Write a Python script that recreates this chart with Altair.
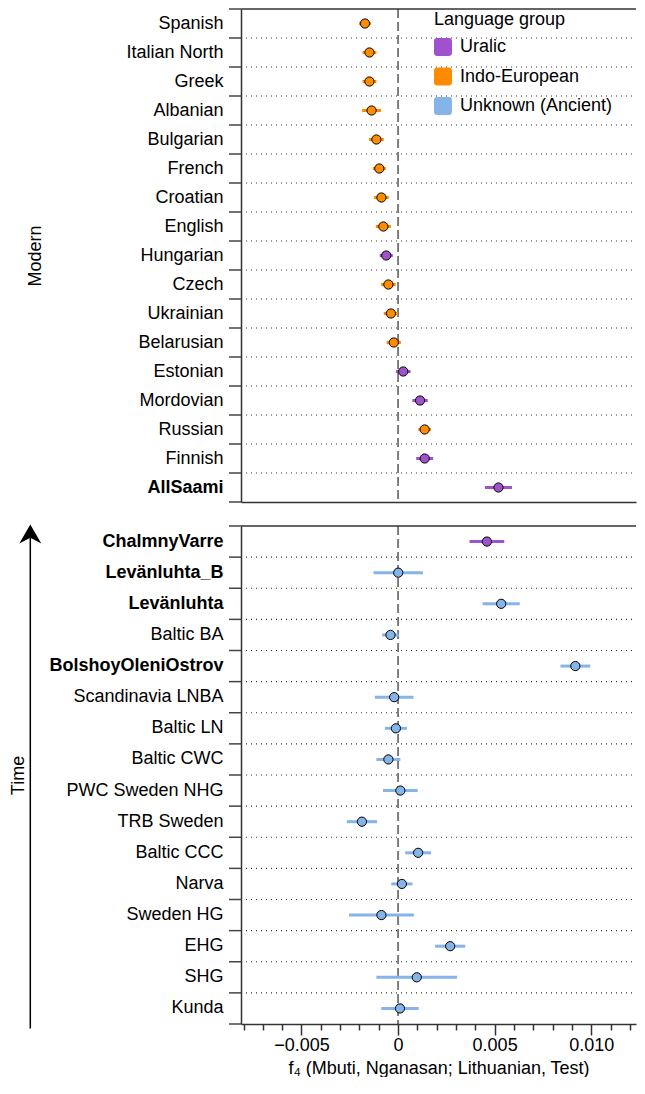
import altair as alt
import pandas as pd

modern_names = ["Spanish", "Italian North", "Greek", "Albanian", "Bulgarian", "French",
                "Croatian", "English", "Hungarian", "Czech", "Ukrainian", "Belarusian",
                "Estonian", "Mordovian", "Russian", "Finnish", "AllSaami"]
modern_f4 = [-0.00171, -0.00148, -0.00148, -0.00137, -0.00112, -0.00097, -0.00086, -0.00076,
             -0.00061, -0.00050, -0.00037, -0.00022, 0.00027, 0.00114, 0.00138, 0.00138, 0.00520]
modern_err = [0.00031, 0.00036, 0.00036, 0.00049, 0.00038, 0.00034, 0.00038, 0.00039,
              0.00034, 0.00038, 0.00037, 0.00037, 0.00038, 0.00040, 0.00033, 0.00044, 0.00070]
modern_group = (["Indo-European"] * 8 + ["Uralic"] + ["Indo-European"] * 3 +
                ["Uralic", "Uralic", "Indo-European", "Uralic", "Uralic"])

ancient_names = ["ChalmnyVarre", "Levänluhta_B", "Levänluhta", "Baltic BA", "BolshoyOleniOstrov",
                 "Scandinavia LNBA", "Baltic LN", "Baltic CWC", "PWC Sweden NHG", "TRB Sweden",
                 "Baltic CCC", "Narva", "Sweden HG", "EHG", "SHG", "Kunda"]
ancient_f4 = [0.00460, 0.00001, 0.00534, -0.00039, 0.00918, -0.00020, -0.00011, -0.00050,
              0.00012, -0.00187, 0.00104, 0.00020, -0.00086, 0.00270, 0.00097, 0.00010]
ancient_err = [0.00090, 0.00128, 0.00096, 0.00043, 0.00077, 0.00100, 0.00057, 0.00062,
               0.00090, 0.00078, 0.00067, 0.00055, 0.00168, 0.00078, 0.00209, 0.00097]
ancient_group = ["Uralic"] + ["Unknown (Ancient)"] * 15

bold_names = ["AllSaami", "ChalmnyVarre", "Levänluhta_B", "Levänluhta", "BolshoyOleniOstrov"]

groups = ["Uralic", "Indo-European", "Unknown (Ancient)"]
group_colors = ["#A052CC", "#FF8C00", "#84B4E8"]

x_ticks = [-0.008, -0.007, -0.006, -0.005, -0.004, -0.003, -0.002, -0.001, 0.0,
           0.001, 0.002, 0.003, 0.004, 0.005, 0.006, 0.007, 0.008, 0.009, 0.010, 0.011, 0.012]

FONT = "Liberation Sans"
FS = 18
W = 395
H_TOP = 493
H_BOT = 498
XDOM = [-0.00813, 0.01232]
LINE = "#333333"
PAD = {"left": 0, "top": 0, "right": 0, "bottom": 0}


def make_df(names, f4, err, grp):
    return pd.DataFrame({
        "name": names,
        "f4": f4,
        "lo": [a - b for a, b in zip(f4, err)],
        "hi": [a + b for a, b in zip(f4, err)],
        "group": grp,
    })


bold_test = "indexof([" + ",".join("'" + n + "'" for n in bold_names) + "], datum.value) >= 0"
major_test = "abs(round(datum.value*1000)) % 5 == 0"


def panel(df, names, H, title, title_x, bottom, legend):
    bw = H / len(names)
    yaxis = alt.Axis(
        ticks=False, grid=False,
        domainColor=LINE, domainWidth=1.5,
        labelFont=FONT, labelFontSize=FS, labelColor="black", labelPadding=18,
        labelFontWeight={"condition": {"test": bold_test, "value": "bold"}, "value": "normal"},
        title=title, titleAngle=-90, titleX=title_x, titleY=H / 2,
        titleFont=FONT, titleFontSize=FS, titleFontWeight="normal", titleColor="black",
        titleBaseline="middle", titleAlign="center",
    )
    yscale = alt.Scale(type="band", domain=names, paddingInner=0, paddingOuter=0)
    y = alt.Y("name:N", sort=names, scale=yscale, axis=yaxis)
    y_plain = alt.Y("name:N", sort=names, scale=yscale)

    if bottom:
        xaxis = alt.Axis(
            values=x_ticks, tickCount=len(x_ticks), grid=False,
            tickSize={"condition": {"test": major_test, "value": 11}, "value": 6},
            tickColor=LINE, tickWidth=1.5,
            domainColor=LINE, domainWidth=1.5,
            labelExpr=("abs(round(datum.value*1000)) % 5 == 0 ? "
                       "(round(datum.value*1000) == 0 ? '0' : "
                       "(datum.value < 0 ? '\u2212' : '') + format(abs(datum.value), '.3f')) : ''"),
            labelOverlap=False, labelFlush=False,
            labelFont=FONT, labelFontSize=FS, labelColor="black", labelPadding=1,
            title="f\u2084 (Mbuti, Nganasan; Lithuanian, Test)",
            titleFont=FONT, titleFontSize=FS, titleFontWeight="normal", titleColor="black",
            titlePadding=5,
        )
    else:
        xaxis = alt.Axis(labels=False, ticks=False, grid=False, title=None,
                         domainColor=LINE, domainWidth=1.5)
    xscale = alt.Scale(domain=XDOM, nice=False, zero=False)

    base = alt.Chart(df)
    color_scale = alt.Scale(domain=groups, range=group_colors)

    # row separators: short solid tick left of the axis + dotted line across the plot
    sep_ticks = base.mark_rule(color="#444444", strokeWidth=1.5, yOffset=-bw / 2).encode(
        y=y_plain, x=alt.value(-12), x2=alt.value(0)
    )
    sep_grid = alt.Chart(df.iloc[1:]).mark_rule(
        color=LINE, strokeWidth=1.1, strokeDash=[1, 4], yOffset=-bw / 2
    ).encode(y=y_plain, x=alt.value(0), x2=alt.value(W))

    one = pd.DataFrame({"a": [0]})
    bottom_tick = alt.Chart(one).mark_rule(color="#444444", strokeWidth=1.5).encode(
        x=alt.value(-12), x2=alt.value(0), y=alt.value(H)
    )
    top_line = alt.Chart(one).mark_rule(color=LINE, strokeWidth=1.5).encode(
        x=alt.value(0), x2=alt.value(W), y=alt.value(0)
    )

    bars = base.mark_rule(strokeWidth=3).encode(
        x=alt.X("lo:Q", scale=xscale, axis=xaxis),
        x2="hi:Q",
        y=y,
        color=alt.Color("group:N", scale=color_scale, legend=None),
    )

    if legend:
        leg = alt.Legend(
            title="Language group", orient="none", legendX=193, legendY=2,
            titleFont=FONT, titleFontSize=FS, titleFontWeight="normal", titleColor="black",
            titlePadding=9, titleBaseline="top",
            labelFont=FONT, labelFontSize=FS, labelColor="black", labelOffset=8,
            symbolType="M-1,-0.65 Q-1,-1 -0.65,-1 L0.65,-1 Q1,-1 1,-0.65 L1,0.65 Q1,1 0.65,1 "
                       "L-0.65,1 Q-1,1 -1,0.65 Z",
            symbolSize=324, symbolStrokeWidth=0, symbolOpacity=1,
            rowPadding=11.5,
        )
    else:
        leg = None

    pts = base.mark_circle(size=85, stroke="black", strokeWidth=1, opacity=1).encode(
        x=alt.X("f4:Q", scale=xscale),
        y=y_plain,
        fill=alt.Fill("group:N", scale=color_scale, legend=leg),
    )

    zero = alt.Chart(pd.DataFrame({"z": [0.0]})).mark_rule(
        strokeDash=[9, 4], color="black", strokeWidth=1
    ).encode(x=alt.X("z:Q", scale=xscale))

    layers = [sep_grid, zero, bars, pts, sep_ticks, bottom_tick, top_line]
    if bottom:
        arrow_line = alt.Chart(one).mark_rule(color="black", strokeWidth=1.5).encode(
            x=alt.value(-210.7), y=alt.value(12), y2=alt.value(502.5)
        )
        arrow_head = alt.Chart(one).mark_point(
            shape="M0,-0.86 L1,0.86 L0,0.35 L-1,0.86 Z", filled=True, color="black",
            opacity=1, size=484
        ).encode(x=alt.value(-210.7), y=alt.value(8))
        layers += [arrow_line, arrow_head]

    return alt.layer(*layers).properties(
        width=W, height=H, view=alt.ViewBackground(stroke=None)
    )


df_modern = make_df(modern_names, modern_f4, modern_err, modern_group)
df_ancient = make_df(ancient_names, ancient_f4, ancient_err, ancient_group)

top = panel(df_modern, modern_names, H_TOP, "Modern", -206, False, True)
bot = panel(df_ancient, ancient_names, H_BOT, "Time", -223, True, False)

chart = alt.vconcat(top, bot, spacing=21).resolve_legend(
    fill="independent"
).properties(
    padding=PAD
).configure(font=FONT).configure_view(stroke=None)

chart.save("out.html", embed_options={"renderer": "svg", "actions": False})
